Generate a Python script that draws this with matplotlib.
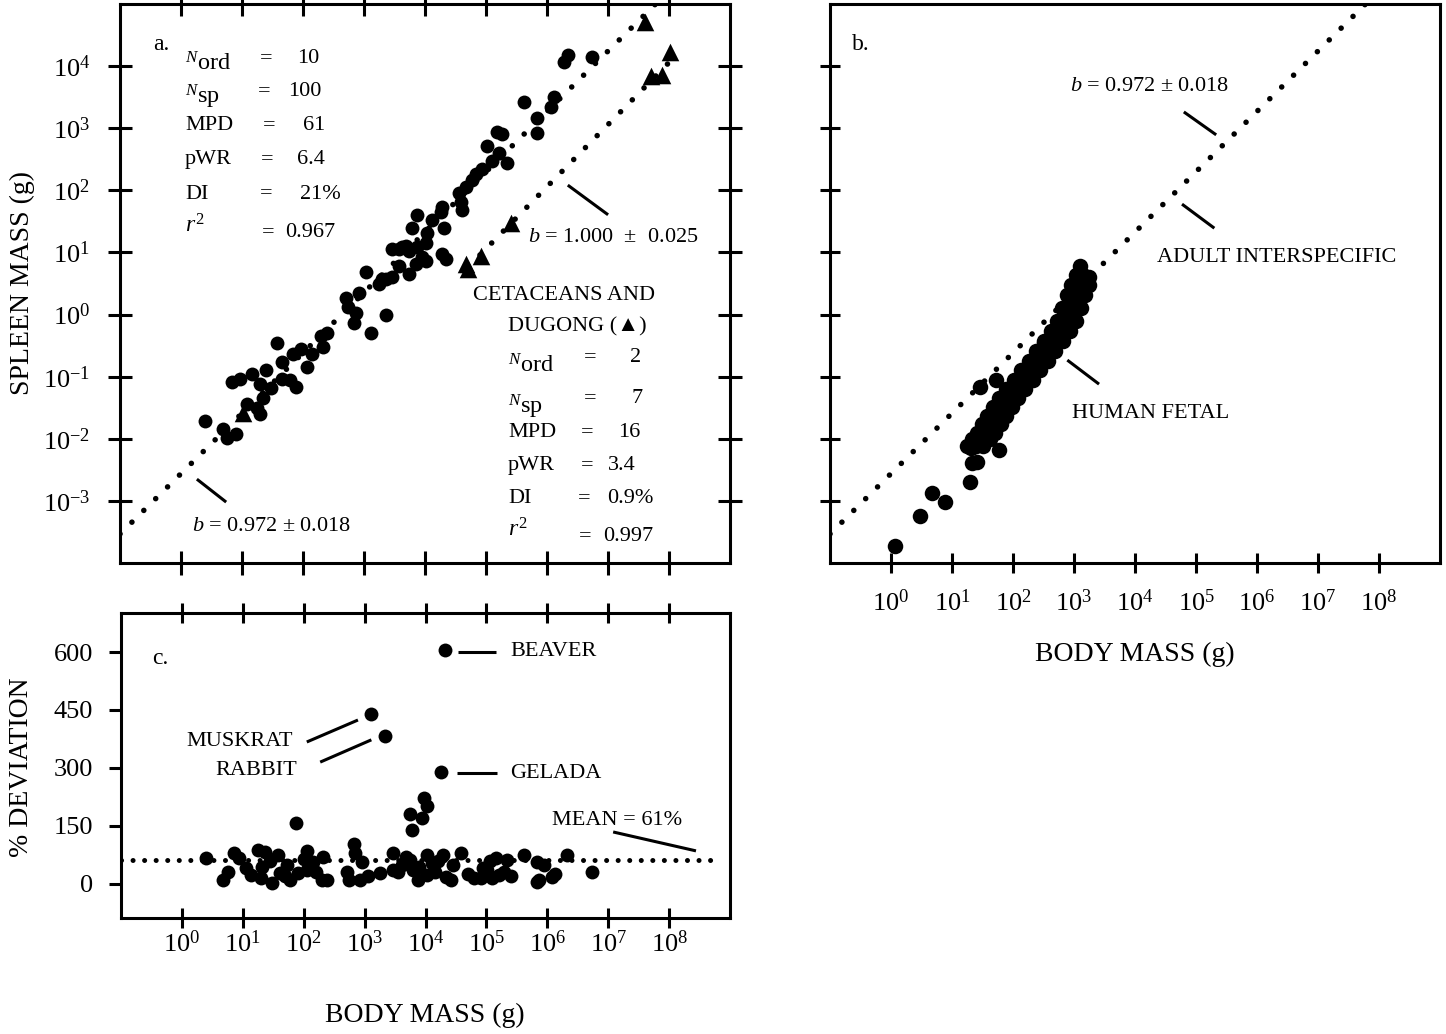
import numpy as np
import matplotlib
matplotlib.use("Agg")
import matplotlib.pyplot as plt
import matplotlib.ticker as mticker

plt.rcParams['font.family'] = ['Liberation Serif', 'DejaVu Sans']
plt.rcParams['mathtext.fontset'] = 'custom'
plt.rcParams['mathtext.rm'] = 'Liberation Serif'
plt.rcParams['mathtext.it'] = 'Liberation Serif:italic'
plt.rcParams['mathtext.bf'] = 'Liberation Serif:bold'

# ---- data (log10 values) ----
# panel a: adult interspecific, log10 body mass (g) and log10 spleen mass (g)
adult_logbody = [0.39, 0.68, 0.75, 0.90, 0.83, 0.96, 1.08, 1.16, 1.24, 1.29,
                 1.29, 1.34, 1.40, 1.48, 1.57, 1.65, 1.66, 1.78, 1.88, 1.83,
                 1.97, 2.06, 2.15, 2.30, 2.40, 2.32, 2.71, 2.74, 2.92, 2.87,
                 2.84, 3.12, 3.36, 3.04, 3.25, 3.36, 3.46, 3.57, 3.69, 3.87,
                 4.02, 3.79, 3.87, 4.03, 3.74, 3.57, 3.85, 4.02, 4.11, 4.28,
                 4.26, 4.31, 4.28, 4.34, 4.56, 4.59, 4.61, 4.67, 4.77, 4.83,
                 4.93, 5.01, 5.09, 5.21, 5.34, 5.18, 5.26, 5.62, 5.83, 5.83,
                 6.06, 6.11, 6.27, 6.34, 6.73, 3.62, 3.74, 3.95, 3.30, 3.46]
adult_logspleen = [-1.71, -1.84, -1.98, -1.92, -1.08, -1.03, -1.44, -0.95, -1.50, -1.11,
                   -1.60, -1.35, -0.90, -1.18, -0.45, -1.03, -0.77, -1.06, -1.16, -0.63,
                   -0.55, -0.85, -0.63, -0.35, -0.29, -0.53, 0.26, 0.13, 0.34, 0.02,
                   -0.13, -0.29, 0.00, 0.68, 0.50, 0.58, 0.60, 1.06, 1.10, 1.08,
                   1.15, 1.39, 1.60, 1.32, 0.66, 0.79, 0.82, 0.87, 1.52, 1.73,
                   1.65, 1.39, 0.98, 0.90, 1.95, 1.81, 1.68, 2.05, 2.16, 2.27,
                   2.35, 2.71, 2.48, 2.60, 2.44, 2.94, 2.90, 3.42, 3.16, 2.92,
                   3.34, 3.50, 4.06, 4.18, 4.15, 1.08, 1.03, 0.92, 0.58, 1.06]

# cetaceans and dugong (triangles)
cet_logbody = [1.01, 4.67, 4.70, 4.92, 5.41, 7.60, 7.71, 7.89, 8.02]
cet_logspleen = [-1.58, 0.82, 0.74, 0.94, 1.47, 4.71, 3.84, 3.85, 4.23]

# fitted lines: log10(spleen) = loga + b * log10(body)
adult_b, adult_loga = 0.972, -2.56
cet_b, cet_loga = 1.000, -3.94

# panel b: human fetal
fetal_logbody = [1.39, 1.47, 1.56, 1.64, 1.72, 1.82, 1.92, 2.04, 2.16, 2.28,
                 2.41, 2.53, 2.66, 2.77, 2.87, 2.95, 3.03, 3.09, 3.15, 3.10,
                 1.24, 1.32, 1.41, 1.49, 1.57, 1.67, 1.77, 1.89, 2.01, 2.13,
                 2.26, 2.38, 2.51, 2.62, 2.72, 2.80, 2.89, 2.95, 3.03,
                 1.51, 1.62, 1.71, 1.80, 1.88, 1.98, 2.08, 2.20, 2.32, 2.44,
                 2.57, 2.69, 2.82, 2.93, 3.03, 3.11, 3.18, 3.24, 3.25,
                 1.46, 1.72, 0.07, 0.48, 0.67, 0.89, 1.30, 1.33, 1.41, 1.77,
                 1.31, 1.38, 2.50, 2.10, 1.85, 2.95]
fetal_logspleen = [-2.11, -2.00, -1.90, -1.76, -1.63, -1.49, -1.35, -1.20, -1.06, -0.90,
                   -0.74, -0.58, -0.42, -0.26, -0.10, 0.10, 0.31, 0.47, 0.63, 0.78,
                   -2.11, -2.00, -1.90, -1.76, -1.63, -1.49, -1.35, -1.20, -1.06, -0.90,
                   -0.74, -0.58, -0.42, -0.26, -0.10, 0.10, 0.31, 0.47, 0.63,
                   -2.11, -2.00, -1.90, -1.76, -1.63, -1.49, -1.35, -1.20, -1.06, -0.90,
                   -0.74, -0.58, -0.42, -0.26, -0.10, 0.10, 0.31, 0.47, 0.60,
                   -1.16, -1.05, -3.73, -3.24, -2.87, -3.02, -2.69, -2.39, -2.37, -2.18,
                   -2.15, -2.05, -0.45, -1.10, -1.55, 0.20]

# panel c: % deviation from the adult line
dev_logbody = [0.39, 0.68, 0.75, 0.85, 0.93, 1.13, 1.25, 1.29, 1.32, 1.37,
               1.48, 1.58, 1.61, 1.73, 1.78, 1.88, 1.91, 2.05, 2.05, 2.15,
               2.30, 2.32, 2.38, 2.71, 2.75, 2.82, 2.84, 2.92, 2.95, 3.11,
               3.25, 3.34, 3.46, 3.46, 3.61, 3.74, 3.74, 3.78, 3.79, 3.87,
               3.94, 3.97, 4.02, 4.02, 4.03, 4.11, 4.26, 4.28, 4.32, 4.34,
               4.42, 4.59, 4.80, 4.91, 5.01, 5.09, 5.16, 5.21, 5.34, 5.62,
               5.83, 5.83, 5.86, 6.07, 6.32, 6.73, 1.05, 1.45, 1.70, 2.00,
               2.20, 3.05, 3.55, 3.68, 3.90, 4.15, 4.20, 4.45, 4.70, 4.95,
               5.05, 5.28, 5.40, 5.95, 6.12]
dev_pct = [67, 10, 31, 80, 67, 23, 88, 16, 44, 83,
           3, 75, 28, 49, 10, 158, 28, 85, 36, 57,
           10, 70, 10, 31, 10, 103, 80, 10, 57, 439,
           28, 384, 80, 36, 49, 62, 181, 140, 36, 10,
           171, 222, 202, 75, 23, 54, 290, 75, 605, 18,
           10, 80, 16, 16, 36, 16, 67, 23, 62, 75,
           57, 5, 10, 18, 75, 31, 40, 60, 20, 65,
           30, 20, 30, 70, 45, 30, 60, 50, 25, 40,
           60, 30, 20, 50, 25]
mean_dev = 61

decades_x = list(range(0, 9))
decades_y = list(range(-3, 5))
dev_ticks = [0, 150, 300, 450, 600]

# ---- figure ----
fig = plt.figure(figsize=(14.46, 10.34), dpi=100)
ax_a = fig.add_axes([0.0830, 0.4555, 0.4219, 0.5406])
ax_b = fig.add_axes([0.5740, 0.4555, 0.4219, 0.5406])
ax_c = fig.add_axes([0.0837, 0.1122, 0.4212, 0.2950])

lw = 2.2
dot_style = dict(color='k', lw=4.0, ls=(0, (0.01, 3.0)), dash_capstyle='round')

for ax in (ax_a, ax_b):
    ax.set_xscale('log')
    ax.set_yscale('log')
    ax.set_xlim(1e-1, 1e9)
    ax.set_ylim(1e-4, 1e5)
    ax.xaxis.set_major_locator(mticker.FixedLocator([10.0 ** d for d in decades_x]))
    ax.yaxis.set_major_locator(mticker.FixedLocator([10.0 ** d for d in decades_y]))
    ax.xaxis.set_minor_locator(mticker.NullLocator())
    ax.yaxis.set_minor_locator(mticker.NullLocator())
    ax.xaxis.set_major_formatter(mticker.FixedFormatter([r'$10^{%d}$' % d for d in decades_x]))
    ax.yaxis.set_major_formatter(mticker.FixedFormatter([r'$10^{%d}$' % d for d in decades_y]))
    for s in ax.spines.values():
        s.set_linewidth(lw)

# panel a
xa = np.logspace(-1, 7.9, 100)
ax_a.plot(xa, 10 ** adult_loga * xa ** adult_b, **dot_style)
xc = np.logspace(4.9, 8.1, 100)
ax_a.plot(xc, 10 ** cet_loga * xc ** cet_b, **dot_style)
ax_a.scatter(10.0 ** np.array(adult_logbody), 10.0 ** np.array(adult_logspleen),
             s=100, color='k', linewidths=0, zorder=3)
ax_a.scatter(10.0 ** np.array(cet_logbody), 10.0 ** np.array(cet_logspleen),
             s=160, marker='^', color='k', linewidths=0, zorder=3)
ax_a.tick_params(axis='both', which='major', direction='inout', length=17, width=lw,
                 top=True, right=True, labelbottom=False, labelsize=19, pad=13)

# panel b
xb = np.logspace(-1, 7.8, 100)
ax_b.plot(xb, 10 ** adult_loga * xb ** adult_b, **dot_style)
ax_b.scatter(10.0 ** np.array(fetal_logbody), 10.0 ** np.array(fetal_logspleen),
             s=125, color='k', linewidths=0, zorder=3)
ax_b.tick_params(axis='both', which='major', direction='inout', length=14, width=lw,
                 top=False, right=False, labelleft=False, labelsize=19, pad=12)

# panel c
ax_c.set_xscale('log')
ax_c.set_xlim(1e-1, 1e9)
ax_c.set_ylim(-88, 701)
ax_c.xaxis.set_major_locator(mticker.FixedLocator([10.0 ** d for d in decades_x]))
ax_c.xaxis.set_minor_locator(mticker.NullLocator())
ax_c.xaxis.set_major_formatter(mticker.FixedFormatter([r'$10^{%d}$' % d for d in decades_x]))
ax_c.set_yticks(dev_ticks)
ax_c.set_yticklabels([str(v) for v in dev_ticks])
for s in ax_c.spines.values():
    s.set_linewidth(lw)
ax_c.plot([1e-1, 10 ** 8.8], [mean_dev, mean_dev], color='k', lw=3.6,
          ls=(0, (0.01, 2.3)), dash_capstyle='round')
ax_c.scatter(10.0 ** np.array(dev_logbody), dev_pct, s=100, color='k', linewidths=0, zorder=3)
ax_c.tick_params(axis='x', which='major', direction='inout', length=14, width=lw,
                 top=True, bottom=True, labelsize=19, pad=2)
ax_c.tick_params(axis='y', which='major', direction='out', length=9, width=lw,
                 right=False, labelsize=19, pad=11)


def txt(ax, fx, fy, s, ha='left', size=16):
    ax.text(fx, fy, s, transform=ax.transAxes, ha=ha, va='center', fontsize=size)


def lead(ax, x0, y0, x1, y1):
    ax.plot([x0, x1], [y0, y1], transform=ax.transAxes, color='k', lw=lw,
            clip_on=False, solid_capstyle='butt')


# stats block, panel a (adults)
txt(ax_a, 0.054, 0.927, 'a.', size=17)
stat_labels = [r'$^{N}$ord', r'$^{N}$sp', 'MPD', 'pWR', 'DI', r'$r^{2}$']
stat_sizes = [17.5, 17.5, 16, 16, 16, 17]
stat_values = ['10', '100', '61', '6.4', '21%', '0.967']
stat_label_y = [0.893, 0.834, 0.782, 0.721, 0.660, 0.603]
stat_val_y = [0.903, 0.843, 0.782, 0.721, 0.660, 0.592]
stat_val_x = [0.290, 0.275, 0.300, 0.290, 0.295, 0.270]
stat_eq_x = [0.239, 0.236, 0.244, 0.241, 0.239, 0.243]
for lab, sz, val, ly, vy, vx, ex in zip(stat_labels, stat_sizes, stat_values, stat_label_y,
                                         stat_val_y, stat_val_x, stat_eq_x):
    txt(ax_a, 0.1066, ly, lab, size=sz)
    txt(ax_a, ex, vy, '=', ha='center')
    txt(ax_a, vx, vy, val)

txt(ax_a, 0.118, 0.066, r'$b$ = 0.972 ± 0.018')
lead(ax_a, 0.126, 0.150, 0.174, 0.109)
txt(ax_a, 0.668, 0.583, r'$b$ = 1.000  ±  0.025')
lead(ax_a, 0.734, 0.676, 0.800, 0.623)

# stats block, panel a (cetaceans)
txt(ax_a, 0.579, 0.479, 'CETACEANS AND')
txt(ax_a, 0.636, 0.422, 'DUGONG (▲)')
cet_labels = [r'$^{N}$ord', r'$^{N}$sp', 'MPD', 'pWR', 'DI', r'$r^{2}$']
cet_values = ['2', '7', '16', '3.4', '0.9%', '0.997']
cet_label_y = [0.352, 0.280, 0.234, 0.174, 0.116, 0.059]
cet_val_y = [0.367, 0.295, 0.234, 0.174, 0.116, 0.048]
cet_val_x = [0.836, 0.839, 0.816, 0.800, 0.798, 0.792]
cet_eq_x = [0.770, 0.770, 0.766, 0.766, 0.761, 0.762]
for lab, sz, val, ly, vy, vx, ex in zip(cet_labels, stat_sizes, cet_values, cet_label_y,
                                         cet_val_y, cet_val_x, cet_eq_x):
    txt(ax_a, 0.636, ly, lab, size=sz)
    txt(ax_a, ex, vy, '=', ha='center')
    txt(ax_a, vx, vy, val)

# panel b annotations
txt(ax_b, 0.036, 0.927, 'b.', size=17)
txt(ax_b, 0.393, 0.852, r'$b$ = 0.972 ± 0.018')
lead(ax_b, 0.580, 0.807, 0.633, 0.766)
txt(ax_b, 0.536, 0.547, 'ADULT INTERSPECIFIC')
lead(ax_b, 0.577, 0.642, 0.630, 0.599)
txt(ax_b, 0.397, 0.268, 'HUMAN FETAL')
lead(ax_b, 0.389, 0.363, 0.441, 0.320)

# panel c annotations
txt(ax_c, 0.051, 0.852, 'c.', size=17)
txt(ax_c, 0.639, 0.872, 'BEAVER')
lead(ax_c, 0.554, 0.872, 0.616, 0.872)
txt(ax_c, 0.639, 0.475, 'GELADA')
lead(ax_c, 0.552, 0.475, 0.617, 0.475)
txt(ax_c, 0.282, 0.577, 'MUSKRAT', ha='right')
lead(ax_c, 0.305, 0.577, 0.389, 0.649)
txt(ax_c, 0.289, 0.485, 'RABBIT', ha='right')
lead(ax_c, 0.327, 0.511, 0.411, 0.584)
txt(ax_c, 0.708, 0.321, 'MEAN = 61%')
lead(ax_c, 0.808, 0.282, 0.944, 0.220)

# axis titles
fig.text(0.0152, 0.726, 'SPLEEN MASS (g)', rotation=90, ha='center', va='center', fontsize=20)
fig.text(0.0152, 0.258, '% DEVIATION', rotation=90, ha='center', va='center', fontsize=20)
fig.text(0.294, 0.018, 'BODY MASS (g)', ha='center', va='center', fontsize=20)
fig.text(0.785, 0.367, 'BODY MASS (g)', ha='center', va='center', fontsize=20)

plt.savefig('out.png', dpi=100)
plt.close('all')
